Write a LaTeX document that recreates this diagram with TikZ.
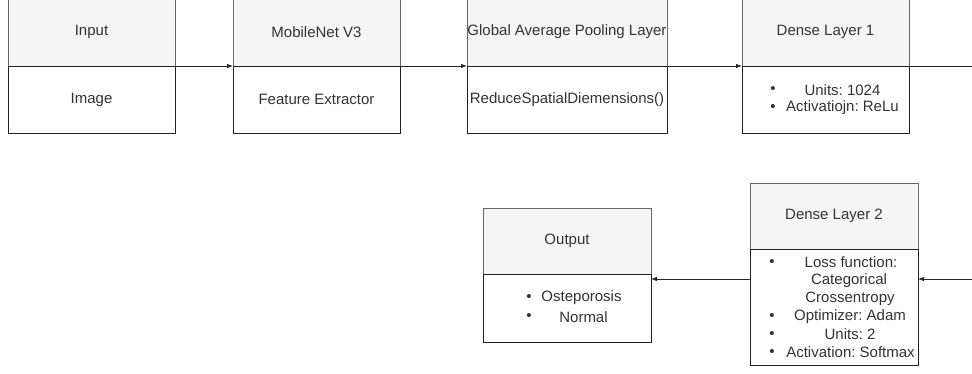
\documentclass[tikz,border=0pt]{standalone}
\usepackage{fontspec}
\setmainfont{Liberation Sans}
\frenchspacing
\usetikzlibrary{arrows.meta}
\definecolor{hdrfill}{HTML}{F5F5F5}
\definecolor{hdrline}{HTML}{666666}
\definecolor{txt}{HTML}{333333}
\definecolor{bodyline}{HTML}{222222}
\begin{document}
\begin{tikzpicture}[x=1pt,y=-1pt,
  every node/.style={font=\fontsize{15}{18}\selectfont, text=txt, inner sep=0pt, outer sep=0pt},
  hdrbox/.style={draw=hdrline, fill=hdrfill, line width=0.8pt, anchor=north west, minimum height=66pt},
  tophdr/.style={hdrbox, minimum height=68pt},
  bodybox/.style={draw=bodyline, fill=white, line width=0.8pt, anchor=north west},
  conn/.style={draw=black!85, line width=0.8pt, -{Latex[length=6pt,width=4.5pt]}},
  plain/.style={draw=black!85, line width=0.8pt},
  bul/.style={anchor=center},
  ln/.style={anchor=center}
]
\useasboundingbox (0,0) rectangle (972,374);
\fill[white] (0,0) rectangle (972,374);

% Input
\node[tophdr, minimum width=167pt] (inH) at (8,-2) {Input};
\node[bodybox, minimum width=167pt, minimum height=67pt] (inB) at (8,66) {Image};
% MobileNet
\node[tophdr, minimum width=167pt] (mnH) at (233,-2) {MobileNet V3};
\node[bodybox, minimum width=167pt, minimum height=67pt] (mnB) at (233,66) {Feature Extractor};
% GAP
\node[tophdr, minimum width=200pt] (gpH) at (467,-2) {Global Average Pooling Layer};
\node[bodybox, minimum width=200pt, minimum height=67pt] (gpB) at (467,66) {ReduceSpatialDiemensions()};
% Dense 1
\node[tophdr, minimum width=167pt] (d1H) at (742,-2) {Dense Layer 1};
\node[bodybox, minimum width=167pt, minimum height=67pt] (d1B) at (742,66) {};
\node[bul] (d1b1) at (773,90) {•};
\node[ln] (d1t1) at (842.5,90) {Units: 1024};
\node[bul] (d1b2) at (773,108) {•};
\node[ln] (d1t2) at (842.5,108) {Activatiojn: ReLu};
% Dense 2
\node[hdrbox, minimum width=168pt] (d2H) at (750,183) {Dense Layer 2};
\node[bodybox, minimum width=168pt, minimum height=116pt] (d2B) at (750,249) {};
\node[bul] (d2b1) at (772,262.5) {•};
\node[ln] (d2t1) at (851,262.5) {Loss function:};
\node[ln] (d2t2) at (849,280.5) {Categorical};
\node[ln] (d2t3) at (850,298.5) {Crossentropy};
\node[bul] (d2b4) at (772,316.5) {•};
\node[ln] (d2t4) at (850,316.5) {Optimizer: Adam};
\node[bul] (d2b5) at (772,334.5) {•};
\node[ln] (d2t5) at (850,334.5) {Units: 2};
\node[bul] (d2b6) at (772,352.5) {•};
\node[ln] (d2t6) at (850.5,352.5) {Activation: Softmax};
% Output
\node[hdrbox, minimum width=168pt] (ouH) at (483,208) {Output};
\node[bodybox, minimum width=168pt, minimum height=68pt] (ouB) at (483,274) {};
\node[bul] (oub1) at (529,298) {•};
\node[ln] (out1) at (581.5,298) {Osteporosis};
\node[bul] (oub2) at (529,317) {•};
\node[ln] (out2) at (583.5,317) {Normal};

% connectors
\coordinate (edgeA) at (972,66);
\coordinate (edgeB) at (972,279);
\draw[conn] (inB.north east) -- (mnB.north west);
\draw[conn] (mnB.north east) -- (gpB.north west);
\draw[conn] (gpB.north east) -- (d1B.north west);
\draw[plain] (d1B.north east) -- (edgeA);
\draw[conn] (edgeB) -- (d2B.east |- edgeB);
\draw[conn] (d2B.west |- edgeB) -- (ouB.east |- edgeB);
\end{tikzpicture}
\end{document}
